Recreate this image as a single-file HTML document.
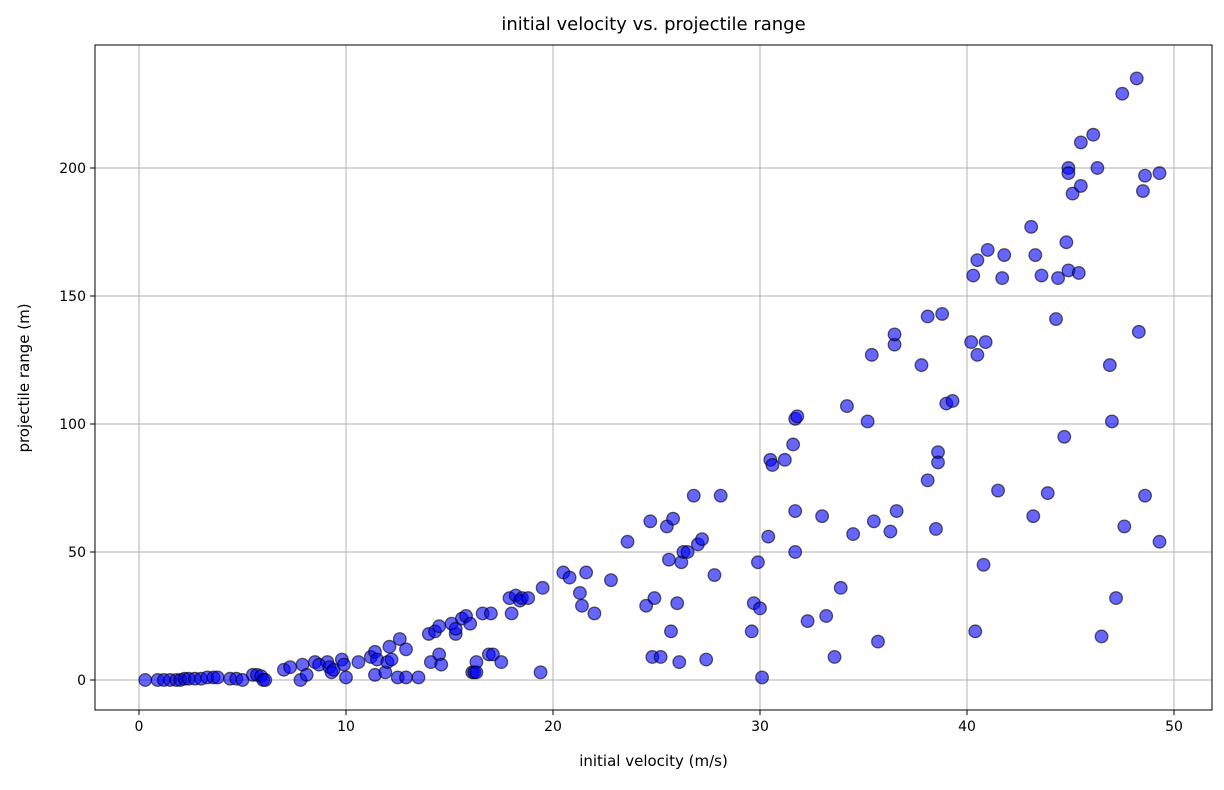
<!DOCTYPE html>
<html><head><meta charset="utf-8"><style>
body{margin:0;background:#fff;font-family:"Liberation Sans","DejaVu Sans",sans-serif}
</style></head><body>
<svg id="chart" width="1224" height="785" xmlns="http://www.w3.org/2000/svg" font-family="DejaVu Sans, Liberation Sans, sans-serif">
<rect width="1224" height="785" fill="#fff"/>
<g id="grid"></g><g id="pts"></g><g id="axes"></g>
</svg>
<script>
const xTicks=[0,10,20,30,40,50];
const yTicks=[0,50,100,150,200];
const velocity=[0.3,0.9,1.2,1.5,1.8,2.0,2.2,2.4,2.7,3.0,3.3,3.6,3.8,4.4,4.7,5.0,5.5,5.7,5.9,6.0,6.1,
7.0,7.3,7.8,7.9,8.1,8.5,8.7,9.1,9.2,9.3,9.4,9.8,9.9,10.0,10.6,11.2,11.4,11.4,11.5,11.9,12.0,12.1,12.2,12.5,12.6,12.9,12.9,13.5,14.0,14.1,14.3,14.5,14.5,14.6,15.1,15.3,15.3,15.6,15.8,16.0,16.1,16.2,16.3,16.3,16.6,16.9,17.0,17.1,17.5,17.9,18.0,18.2,18.4,18.5,18.8,19.4,19.5,20.5,20.8,21.3,21.4,21.6,22.0,22.8,23.6,24.5,24.7,24.8,24.9,25.2,25.5,25.6,25.7,25.8,26.0,26.1,26.2,26.3,26.5,26.8,27.0,27.2,27.4,27.8,28.1,29.6,29.7,29.9,30.0,30.1,30.4,30.5,30.6,31.2,31.6,31.7,31.7,31.7,31.8,32.3,33.0,33.2,33.6,33.9,34.2,34.5,35.2,35.4,35.5,35.7,36.3,36.5,36.5,36.6,37.8,38.1,38.1,38.5,38.6,38.6,38.8,39.0,39.3,40.2,40.3,40.4,40.5,40.5,40.8,40.9,41.0,41.5,41.7,41.8,43.1,43.2,43.3,43.6,43.9,44.3,44.4,44.7,44.8,44.9,44.9,44.9,45.1,45.4,45.5,45.5,46.1,46.3,46.5,46.9,47.0,47.2,47.5,47.6,48.2,48.3,48.5,48.6,48.6,49.3,49.3];
const range=[0,0,0,0,0,0,0.5,0.5,0.5,0.5,1,1,1,0.5,0.5,0,2,2,1.5,0,0,
4,5,0,6,2,7,6,7,5,3,4,8,6,1,7,9,11,2,8,3,7,13,8,1,16,12,1,1,18,7,19,21,10,6,22,18,20,24,25,22,3,3,7,3,26,10,26,10,7,32,26,33,31,32,32,3,36,42,40,34,29,42,26,39,54,29,62,9,32,9,60,47,19,63,30,7,46,50,50,72,53,55,8,41,72,19,30,46,28,1,56,86,84,86,92,66,50,102,103,23,64,25,9,36,107,57,101,127,62,15,58,131,135,66,123,78,142,59,89,85,143,108,109,132,158,19,164,127,45,132,168,74,157,166,177,64,166,158,73,141,157,95,171,160,200,198,190,159,210,193,213,200,17,123,101,32,229,60,235,136,191,197,72,54,198];
const NS="http://www.w3.org/2000/svg";
const L=95,R=1212,T=45,B=710;
const sx=v=>139+v*20.7, sy=v=>680-v*2.56;
function mk(tag,attrs,parent,text){const e=document.createElementNS(NS,tag);for(const k in attrs)e.setAttribute(k,attrs[k]);if(text!==undefined)e.textContent=text;parent.appendChild(e);return e;}
const grid=document.getElementById('grid'),pts=document.getElementById('pts'),axes=document.getElementById('axes');
xTicks.forEach(t=>{const x=sx(t);
 const g=mk('line',{x1:x,x2:x,y1:T,y2:B,stroke:'#b0b0b0','stroke-width':1},grid);
 
 
 mk('line',{x1:x,x2:x,y1:B,y2:B+5,stroke:'#000'},axes);
 const lb=mk('text',{x:x,y:B+21,'font-size':14,'text-anchor':'middle'},axes,String(t));
 
 
});
yTicks.forEach(t=>{const y=sy(t);
 const g=mk('line',{x1:L,x2:R,y1:y,y2:y,stroke:'#b0b0b0','stroke-width':1},grid);
 
 
 mk('line',{x1:L-5,x2:L,y1:y,y2:y,stroke:'#000'},axes);
 const lb=mk('text',{x:L-9,y:y+5,'font-size':14,'text-anchor':'end'},axes,String(t));
 
 
});
velocity.forEach((v,i)=>{
 const c=mk('circle',{cx:sx(v),cy:sy(range[i]),r:6.3,fill:'rgba(0,0,255,0.6)',stroke:'rgba(0,0,0,0.6)','stroke-width':1.3},pts);
 
 
});
const fr=mk('rect',{x:L,y:T,width:R-L,height:B-T,fill:'none',stroke:'#000','stroke-width':1},axes);


const ti=mk('text',{x:(L+R)/2,y:30,'font-size':18,'text-anchor':'middle'},axes,'initial velocity vs. projectile range');


const xl=mk('text',{x:(L+R)/2,y:766,'font-size':15,'text-anchor':'middle'},axes,'initial velocity (m/s)');


const yl=mk('text',{x:0,y:0,'font-size':15,'text-anchor':'middle',transform:'translate(29,378) rotate(-90)'},axes,'projectile range (m)');


</script>
</body></html>
